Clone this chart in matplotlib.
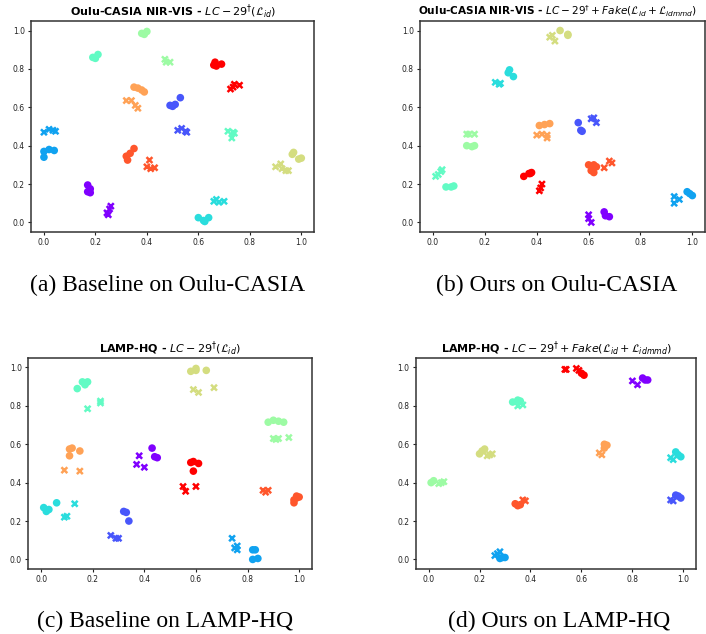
import numpy as np
import matplotlib.pyplot as plt

# class index -> rainbow colour (10 identities)
n_cls = 10

# (class, x, y) for photo samples (circles) and fake / other domain (crosses)
a_dots = [(9, 0.66, 0.82), (9, 0.665, 0.835), (9, 0.67, 0.815), (9, 0.69, 0.825),
          (8, 0.32, 0.345), (8, 0.325, 0.325), (8, 0.335, 0.36), (8, 0.35, 0.385),
          (7, 0.35, 0.705), (7, 0.365, 0.70), (7, 0.38, 0.69), (7, 0.39, 0.68),
          (6, 0.97, 0.365), (6, 0.965, 0.355), (6, 0.99, 0.33), (6, 1.0, 0.335),
          (5, 0.38, 0.985), (5, 0.39, 0.98), (5, 0.40, 0.995),
          (4, 0.19, 0.86), (4, 0.20, 0.855), (4, 0.21, 0.875),
          (3, 0.60, 0.025), (3, 0.62, 0.01), (3, 0.625, 0.005), (3, 0.64, 0.025),
          (2, 0.0, 0.37), (2, 0.02, 0.38), (2, 0.04, 0.375), (2, 0.0, 0.34),
          (1, 0.49, 0.61), (1, 0.50, 0.605), (1, 0.51, 0.615), (1, 0.53, 0.65),
          (0, 0.17, 0.16), (0, 0.18, 0.175), (0, 0.17, 0.195), (0, 0.18, 0.155)]
a_cross = [(9, 0.725, 0.695), (9, 0.735, 0.705), (9, 0.74, 0.72), (9, 0.76, 0.715),
           (8, 0.40, 0.29), (8, 0.41, 0.325), (8, 0.415, 0.28), (8, 0.43, 0.285),
           (7, 0.32, 0.635), (7, 0.34, 0.635), (7, 0.355, 0.61), (7, 0.365, 0.595),
           (6, 0.90, 0.29), (6, 0.92, 0.305), (6, 0.925, 0.28), (6, 0.94, 0.27), (6, 0.95, 0.27),
           (5, 0.47, 0.85), (5, 0.475, 0.835), (5, 0.49, 0.835),
           (4, 0.715, 0.475), (4, 0.735, 0.47), (4, 0.73, 0.44), (4, 0.74, 0.465),
           (3, 0.66, 0.11), (3, 0.67, 0.12), (3, 0.68, 0.105), (3, 0.70, 0.11),
           (2, 0.0, 0.47), (2, 0.02, 0.485), (2, 0.035, 0.48), (2, 0.045, 0.475),
           (1, 0.52, 0.48), (1, 0.535, 0.49), (1, 0.55, 0.475), (1, 0.555, 0.47),
           (0, 0.245, 0.05), (0, 0.25, 0.04), (0, 0.255, 0.07), (0, 0.26, 0.085)]

b_dots = [(6, 0.49, 1.0), (6, 0.52, 0.98), (6, 0.52, 0.975),
          (3, 0.29, 0.78), (3, 0.295, 0.795), (3, 0.31, 0.76),
          (5, 0.13, 0.40), (5, 0.15, 0.395), (5, 0.16, 0.40),
          (4, 0.05, 0.185), (4, 0.07, 0.185), (4, 0.08, 0.19),
          (7, 0.41, 0.505), (7, 0.43, 0.51), (7, 0.45, 0.515),
          (1, 0.56, 0.52), (1, 0.57, 0.48), (1, 0.575, 0.475),
          (9, 0.35, 0.24), (9, 0.37, 0.255), (9, 0.38, 0.26), (9, 0.375, 0.255),
          (8, 0.60, 0.30), (8, 0.61, 0.27), (8, 0.62, 0.26), (8, 0.63, 0.29), (8, 0.62, 0.30),
          (0, 0.66, 0.055), (0, 0.665, 0.035), (0, 0.68, 0.03),
          (2, 0.98, 0.16), (2, 0.99, 0.15), (2, 1.0, 0.14)]
b_cross = [(6, 0.45, 0.965), (6, 0.47, 0.945), (6, 0.46, 0.975),
           (3, 0.24, 0.73), (3, 0.255, 0.72), (3, 0.26, 0.725),
           (5, 0.13, 0.46), (5, 0.16, 0.46), (5, 0.14, 0.46),
           (4, 0.01, 0.24), (4, 0.02, 0.25), (4, 0.03, 0.265), (4, 0.035, 0.275),
           (7, 0.40, 0.455), (7, 0.42, 0.46), (7, 0.44, 0.44), (7, 0.44, 0.455),
           (1, 0.61, 0.54), (1, 0.62, 0.545), (1, 0.63, 0.52),
           (9, 0.41, 0.165), (9, 0.415, 0.18), (9, 0.42, 0.20),
           (8, 0.66, 0.285), (8, 0.68, 0.32), (8, 0.69, 0.31),
           (0, 0.60, 0.04), (0, 0.60, 0.02), (0, 0.61, 0.0),
           (2, 0.93, 0.10), (2, 0.93, 0.135), (2, 0.95, 0.12)]

c_dots = [(6, 0.58, 0.98), (6, 0.60, 0.995), (6, 0.60, 0.985), (6, 0.64, 0.985),
          (4, 0.14, 0.89), (4, 0.16, 0.925), (4, 0.18, 0.925), (4, 0.17, 0.91),
          (5, 0.88, 0.715), (5, 0.90, 0.725), (5, 0.92, 0.72), (5, 0.94, 0.715),
          (7, 0.11, 0.575), (7, 0.12, 0.58), (7, 0.11, 0.54), (7, 0.15, 0.565),
          (0, 0.43, 0.58), (0, 0.44, 0.535), (0, 0.45, 0.53),
          (9, 0.58, 0.505), (9, 0.59, 0.51), (9, 0.61, 0.50), (9, 0.59, 0.46),
          (8, 0.98, 0.31), (8, 0.99, 0.32), (8, 0.99, 0.33), (8, 0.98, 0.295), (8, 1.0, 0.325),
          (3, 0.01, 0.27), (3, 0.02, 0.25), (3, 0.03, 0.26), (3, 0.06, 0.295),
          (1, 0.32, 0.25), (1, 0.33, 0.245), (1, 0.34, 0.20),
          (2, 0.82, 0.05), (2, 0.83, 0.05), (2, 0.82, 0.0), (2, 0.84, 0.005)]
c_cross = [(6, 0.59, 0.885), (6, 0.61, 0.87), (6, 0.67, 0.895),
           (4, 0.23, 0.825), (4, 0.23, 0.815), (4, 0.18, 0.785),
           (5, 0.90, 0.63), (5, 0.91, 0.625), (5, 0.92, 0.63), (5, 0.96, 0.635),
           (7, 0.09, 0.465), (7, 0.15, 0.46),
           (0, 0.37, 0.495), (0, 0.38, 0.54), (0, 0.40, 0.48),
           (9, 0.55, 0.38), (9, 0.56, 0.355), (9, 0.60, 0.38),
           (8, 0.86, 0.36), (8, 0.87, 0.35), (8, 0.88, 0.36),
           (3, 0.09, 0.22), (3, 0.10, 0.225), (3, 0.13, 0.29),
           (1, 0.27, 0.125), (1, 0.29, 0.11), (1, 0.30, 0.11),
           (2, 0.74, 0.11), (2, 0.75, 0.06), (2, 0.76, 0.05), (2, 0.76, 0.07)]

d_dots = [(9, 0.60, 0.97), (9, 0.61, 0.96),
          (0, 0.84, 0.945), (0, 0.85, 0.935), (0, 0.86, 0.935),
          (4, 0.33, 0.82), (4, 0.35, 0.83), (4, 0.36, 0.825),
          (6, 0.20, 0.55), (6, 0.21, 0.565), (6, 0.22, 0.575),
          (7, 0.69, 0.60), (7, 0.70, 0.595), (7, 0.69, 0.58),
          (3, 0.97, 0.56), (3, 0.98, 0.545), (3, 0.99, 0.535),
          (5, 0.01, 0.40), (5, 0.02, 0.41),
          (1, 0.97, 0.335), (1, 0.98, 0.33), (1, 0.99, 0.32),
          (8, 0.34, 0.29), (8, 0.35, 0.28), (8, 0.36, 0.285),
          (2, 0.28, 0.005), (2, 0.29, 0.01), (2, 0.30, 0.01)]
d_cross = [(9, 0.535, 0.99), (9, 0.54, 0.99), (9, 0.58, 0.995), (9, 0.59, 0.985),
           (0, 0.80, 0.93), (0, 0.82, 0.91),
           (4, 0.35, 0.80), (4, 0.37, 0.805),
           (6, 0.23, 0.54), (6, 0.24, 0.545), (6, 0.25, 0.55),
           (7, 0.67, 0.555), (7, 0.68, 0.545),
           (3, 0.95, 0.53), (3, 0.96, 0.52),
           (5, 0.04, 0.395), (5, 0.05, 0.40), (5, 0.06, 0.405),
           (1, 0.95, 0.31), (1, 0.96, 0.305),
           (8, 0.37, 0.31), (8, 0.38, 0.305),
           (2, 0.26, 0.02), (2, 0.27, 0.03), (2, 0.28, 0.04)]

titles = [r'Oulu-CASIA NIR-VIS - $LC-29^{\dagger}(\mathcal{L}_{id})$',
          r'Oulu-CASIA NIR-VIS - $LC-29^{\dagger}+Fake(\mathcal{L}_{id}+\mathcal{L}_{idmmd})$',
          r'LAMP-HQ - $LC-29^{\dagger}(\mathcal{L}_{id})$',
          r'LAMP-HQ - $LC-29^{\dagger}+Fake(\mathcal{L}_{id}+\mathcal{L}_{idmmd})$']
captions = ['(a) Baseline on Oulu-CASIA', '(b) Ours on Oulu-CASIA',
            '(c) Baseline on LAMP-HQ', '(d) Ours on LAMP-HQ']

plt.rcParams['mathtext.fontset'] = 'dejavusans'
fig = plt.figure(figsize=(7.06, 6.34), dpi=100)
rects = [[0.044, 0.634, 0.401, 0.333],
         [0.595, 0.634, 0.404, 0.333],
         [0.040, 0.1025, 0.402, 0.333],
         [0.589, 0.1025, 0.397, 0.333]]
cap_pos = [(0.238, 0.5505), (0.789, 0.5505), (0.234, 0.0205), (0.792, 0.0205)]
title_x = [0.5, 0.48, 0.5, 0.5]
title_size = [8, 7.6, 8, 8]
cmap = plt.get_cmap('rainbow')

panels = [(a_dots, a_cross), (b_dots, b_cross), (c_dots, c_cross), (d_dots, d_cross)]
for i, (dots, cross) in enumerate(panels):
    ax = fig.add_axes(rects[i])
    d = np.array(dots)
    c = np.array(cross)
    ax.scatter(d[:, 1], d[:, 2], c=cmap(d[:, 0] / (n_cls - 1)), marker='o', s=30,
               linewidths=0)
    ax.scatter(c[:, 1], c[:, 2], c=cmap(c[:, 0] / (n_cls - 1)), marker='x', s=18,
               linewidths=1.8)
    ax.set_xticks(np.arange(0, 1.01, 0.2))
    ax.set_yticks(np.arange(0, 1.01, 0.2))
    ax.set_xlim(-0.05, 1.05)
    ax.set_ylim(-0.05, 1.05)
    ax.tick_params(labelsize=5.5, length=2.5, width=0.8, pad=2, colors='#222222')
    for sp in ax.spines.values():
        sp.set_linewidth(1.1)
        sp.set_color('#333333')
    ax.set_title(titles[i], fontsize=title_size[i], fontweight='bold', pad=4,
                 x=title_x[i])
    fig.text(cap_pos[i][0], cap_pos[i][1], captions[i], ha='center', va='center',
             family='Liberation Serif', fontsize=17)

plt.savefig('out.png', dpi=100)
